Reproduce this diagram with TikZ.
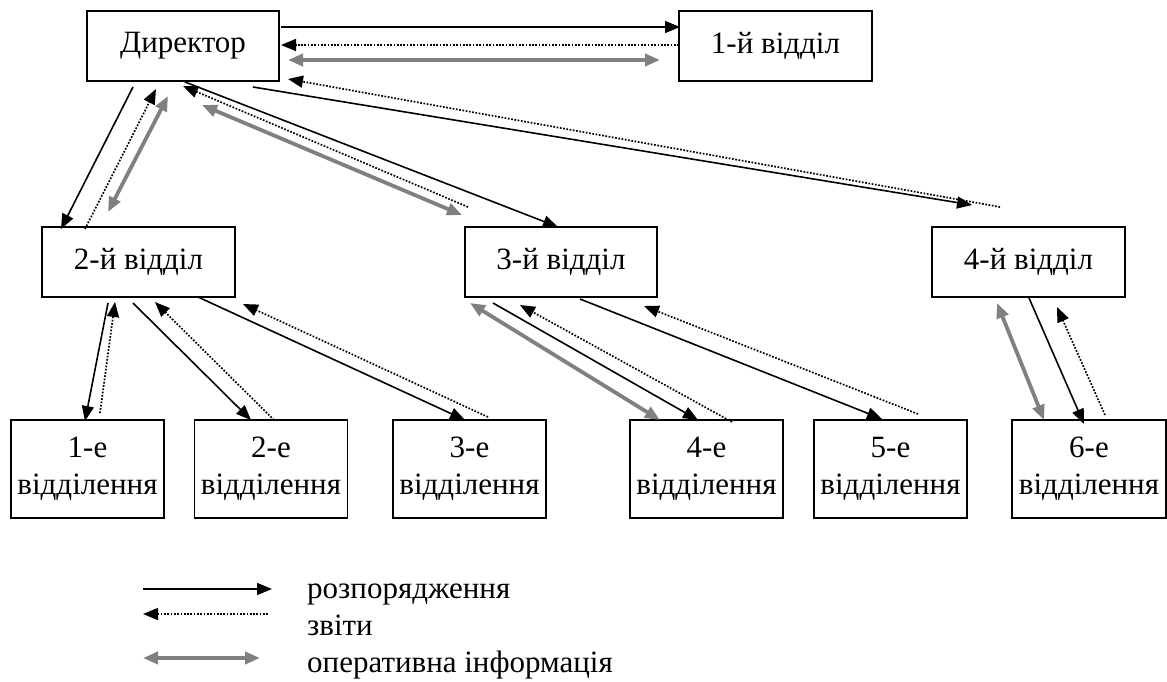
\documentclass[tikz,border=0pt]{standalone}
\usepackage{fontspec}
\setmainfont{Liberation Serif}
\usetikzlibrary{arrows.meta}
\definecolor{infogray}{HTML}{808080}
\newcommand\boxfont{\fontsize{31}{37}\selectfont}
\begin{document}
\begin{tikzpicture}[x=1pt,y=-1pt,
  box/.style={draw, line width=1.8pt, inner sep=0pt, font=\boxfont, align=center},
  topbox/.style={box, minimum height=70pt},
  subbox/.style={box, minimum width=153pt, minimum height=98pt},
  tipA/.tip={Triangle[length=15pt,width=12pt]},
  ord/.style={line width=1.6pt, -tipA},
  rep/.style={line width=1.7pt, dash pattern=on 1.7pt off 1.6pt, -tipA},
  info/.style={line width=3.8pt, draw=infogray, infogray, tipA-tipA},
  leg/.style={anchor=base west, inner sep=0pt, font=\boxfont}]
\useasboundingbox (0,0) rectangle (1167,682);
% boxes
\node[topbox, minimum width=192pt] (D)  at (183,46)    {Директор};
\node[topbox, minimum width=193pt] (O1) at (775.5,46)  {1-й відділ};
\node[topbox, minimum width=193pt] (O2) at (138.5,262) {2-й відділ};
\node[topbox, minimum width=192pt] (O3) at (561,262)   {3-й відділ};
\node[topbox, minimum width=193pt] (O4) at (1028.5,262){4-й відділ};
\node[subbox] (E1) at (87.5,469)  {1-е\\відділення};
\node[subbox] (E2) at (271,469)   {2-е\\відділення};
\node[subbox] (E3) at (469.5,469) {3-е\\відділення};
\node[subbox] (E4) at (706.5,469) {4-е\\відділення};
\node[subbox] (E5) at (890.5,469) {5-е\\відділення};
\node[subbox, minimum width=154pt] (E6) at (1089,469) {6-е\\відділення};
% Director - 1st department
\coordinate (s1a) at (281,27);  \coordinate (s1b) at (680,27);
\coordinate (d1a) at (679,45);  \coordinate (d1b) at (281,45);
\coordinate (g1a) at (288,60);  \coordinate (g1b) at (660,60);
\draw[ord]  (s1a) -- (s1b);
\draw[rep]  (d1a) -- (d1b);
\draw[info] (g1a) -- (g1b);
% Director - 4th department
\coordinate (s4a) at (253,87);   \coordinate (s4b) at (972,205);
\coordinate (d4a) at (1000,207); \coordinate (d4b) at (288,79);
\draw[ord] (s4a) -- (s4b);
\draw[rep] (d4a) -- (d4b);
% Director - 2nd department
\coordinate (s2a) at (133,87);  \coordinate (s2b) at (61,229);
\coordinate (d2a) at (85,229);  \coordinate (d2b) at (156,89);
\coordinate (g2a) at (168,96);  \coordinate (g2b) at (108,212);
\draw[ord]  (s2a) -- (s2b);
\draw[rep]  (d2a) -- (d2b);
\draw[info] (g2a) -- (g2b);
% Director - 3rd department
\coordinate (s3a) at (185,82);  \coordinate (s3b) at (558,227);
\coordinate (d3a) at (468,207); \coordinate (d3b) at (183,86);
\coordinate (g3a) at (202,105); \coordinate (g3b) at (462,215);
\draw[ord]  (s3a) -- (s3b);
\draw[rep]  (d3a) -- (d3b);
\draw[info] (g3a) -- (g3b);
% 2nd department - sections 1..3
\coordinate (a1) at (108,303); \coordinate (a2) at (85,421);
\coordinate (b1) at (100,413); \coordinate (b2) at (115,302);
\coordinate (a3) at (133,303); \coordinate (a4) at (251,420);
\coordinate (b3) at (274,420); \coordinate (b4) at (155,302);
\coordinate (a5) at (198,297); \coordinate (a6) at (465,420);
\coordinate (b5) at (488,417); \coordinate (b6) at (243,304);
\draw[ord] (a1) -- (a2);
\draw[rep] (b1) -- (b2);
\draw[ord] (a3) -- (a4);
\draw[rep] (b3) -- (b4);
\draw[ord] (a5) -- (a6);
\draw[rep] (b5) -- (b6);
% 3rd department - sections 4, 5
\coordinate (c1) at (493,303); \coordinate (c2) at (698,420);
\coordinate (e1) at (732,422); \coordinate (e2) at (520,305);
\coordinate (f1) at (470,303); \coordinate (f2) at (660,420);
\coordinate (c3) at (580,299); \coordinate (c4) at (882,419);
\coordinate (e3) at (918,414); \coordinate (e4) at (644,306);
\draw[info] (f1) -- (f2);
\draw[ord] (c1) -- (c2);
\draw[rep] (e1) -- (e2);
\draw[ord] (c3) -- (c4);
\draw[rep] (e3) -- (e4);
% 4th department - section 6
\coordinate (h1) at (997,303);  \coordinate (h2) at (1044,420);
\coordinate (h3) at (1029,298); \coordinate (h4) at (1084,424);
\coordinate (h5) at (1105,415); \coordinate (h6) at (1057,307);
\draw[info] (h1) -- (h2);
\draw[ord] (h3) -- (h4);
\draw[rep] (h5) -- (h6);
% legend
\node[leg] (L1) at (307,598) {розпорядження};
\node[leg] (L2) at (307,635) {звіти};
\node[leg] (L3) at (307,672) {оперативна інформація};
\coordinate (la1) at (143,589); \coordinate (la2) at (272,589);
\coordinate (lb1) at (268,614); \coordinate (lb2) at (143,614);
\coordinate (lc1) at (143,658); \coordinate (lc2) at (260,658);
\draw[ord]  (la1) -- (la2);
\draw[rep]  (lb1) -- (lb2);
\draw[info] (lc1) -- (lc2);
\end{tikzpicture}
\end{document}
